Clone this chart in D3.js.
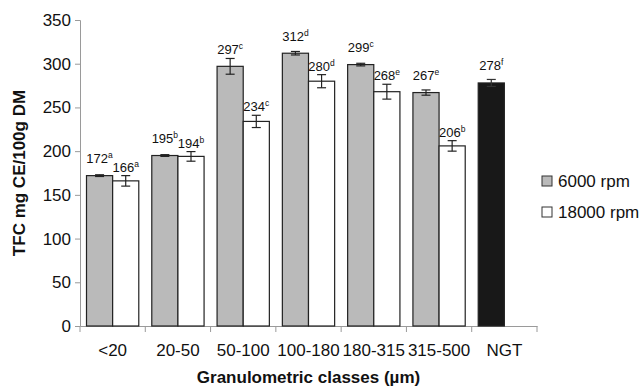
<!DOCTYPE html>
<html>
<head>
<meta charset="utf-8">
<script src="https://cdn.jsdelivr.net/npm/d3@7/dist/d3.min.js"></script>
<style>
  body { margin:0; background:#fff; }
  svg text { font-family: "Liberation Sans", Arial, sans-serif; fill:#111; }
</style>
</head>
<body>
<div class="container"></div>
<script>
// data
var categories = ["<20","20-50","50-100","100-180","180-315","315-500","NGT"];
var seriesNames = ["6000 rpm","18000 rpm"];
var rpm6000 = [172,195,297,312,299,267,278];
var rpm6000Err = [1,1,9,2,1.5,3,4];
var rpm6000Letters = ["a","b","c","d","c","e","f"];
var rpm18000 = [166,194,234,280,268,206,null];
var rpm18000Err = [6,5.5,7,7.5,8.5,6,null];
var rpm18000Letters = ["a","b","c","d","e","b",null];
var yTicks = [0,50,100,150,200,250,300,350];

var width=644, height=387;
var margin={left:80,right:107,top:20,bottom:61};

var svg=d3.select(".container").append("svg").attr("width",width).attr("height",height);

var y=d3.scaleLinear().domain([0,350]).range([height-margin.bottom,margin.top]);
var x=d3.scaleBand().domain(categories).range([margin.left,width-margin.right]).paddingInner(0);
var xs=d3.scaleBand().domain(seriesNames).range([6.5,x.bandwidth()-6.5]);

// build rows for each bar
var bars=[];
for(i=0;i<categories.length;i++){
    bars.push({cat:categories[i],s:seriesNames[0],v:rpm6000[i],e:rpm6000Err[i],l:rpm6000Letters[i],
        fill:categories[i]=="NGT"?"#181818":"#bababa"});
    if(rpm18000[i]!=null){
        bars.push({cat:categories[i],s:seriesNames[1],v:rpm18000[i],e:rpm18000Err[i],l:rpm18000Letters[i],fill:"#ffffff"});
    }
}

var axisColor="#9a9a9a";

// axes
var yAxis=d3.axisLeft(y).tickValues(yTicks).tickSize(5).tickPadding(4);
var gy=svg.append("g").attr("transform","translate("+margin.left+",0)").call(yAxis);
gy.select(".domain").attr("stroke",axisColor);
gy.selectAll(".tick line").attr("stroke",axisColor);
gy.selectAll(".tick text").attr("font-size","17px").attr("font-family","Liberation Sans, Arial, sans-serif").attr("fill","#111");

var xAxis=d3.axisBottom(x).tickSize(0).tickPadding(0);
var gx=svg.append("g").attr("transform","translate(0,"+y(0)+")").call(xAxis);
gx.select(".domain").attr("stroke",axisColor);
gx.selectAll(".tick text").attr("font-size","17px").attr("font-family","Liberation Sans, Arial, sans-serif")
    .attr("fill","#111").attr("dy",null).attr("y",30);
// boundary ticks between categories
var bounds=categories.map(function(c){return x(c);}).concat([x.range()[1]]);
svg.selectAll("line.bt").data(bounds).enter().append("line").attr("class","bt")
    .attr("x1",function(d){return d;}).attr("x2",function(d){return d;})
    .attr("y1",y(0)).attr("y2",y(0)+6).attr("stroke",axisColor);

// bars
svg.selectAll("rect.bar").data(bars).enter().append("rect").attr("class","bar")
    .attr("x",function(d){return x(d.cat)+xs(d.s);})
    .attr("y",function(d){return y(d.v);})
    .attr("width",xs.bandwidth())
    .attr("height",function(d){return y(0)-y(d.v);})
    .attr("fill",function(d){return d.fill;})
    .attr("stroke","#222").attr("stroke-width",1.2);

// error bars
var eg=svg.selectAll("g.err").data(bars).enter().append("g").attr("class","err")
    .attr("stroke",function(d){return d.cat=="NGT"?"#333":"#222";}).attr("stroke-width",1.2);
eg.append("line")
    .attr("x1",function(d){return x(d.cat)+xs(d.s)+xs.bandwidth()/2;})
    .attr("x2",function(d){return x(d.cat)+xs(d.s)+xs.bandwidth()/2;})
    .attr("y1",function(d){return y(d.v+d.e);})
    .attr("y2",function(d){return y(d.v-d.e);});
eg.selectAll("line.cap").data(function(d){return [d.v+d.e,d.v-d.e].map(function(v){return {d:d,v:v};});})
    .enter().append("line").attr("class","cap")
    .attr("x1",function(c){return x(c.d.cat)+xs(c.d.s)+xs.bandwidth()/2-4.5;})
    .attr("x2",function(c){return x(c.d.cat)+xs(c.d.s)+xs.bandwidth()/2+4.5;})
    .attr("y1",function(c){return y(c.v);})
    .attr("y2",function(c){return y(c.v);});

// value labels with letters
var lbl=svg.selectAll("text.val").data(bars).enter().append("text").attr("class","val")
    .attr("x",function(d){return x(d.cat)+xs(d.s)+xs.bandwidth()/2;})
    .attr("y",function(d){return d.s==seriesNames[0]?y(d.v)-12.5:y(d.v+d.e)-4;})
    .attr("text-anchor","middle").attr("font-size","13px");
lbl.append("tspan").text(function(d){return d.v;});
lbl.append("tspan").attr("font-size","8.5px").attr("dy","-5").text(function(d){return d.l;});

// legend
var lg=svg.selectAll("g.leg").data(seriesNames).enter().append("g").attr("class","leg")
    .attr("transform",function(d,i){return "translate(542,"+(176+i*31)+")";});
lg.append("rect").attr("width",10).attr("height",10)
    .attr("fill",function(d,i){return i==0?"#bababa":"#fff";}).attr("stroke","#333").attr("stroke-width",1);
lg.append("text").attr("x",16).attr("y",11).attr("font-size","17px").text(function(d){return d;});

// axis titles
svg.append("text").attr("x",(margin.left+x.range()[1])/2).attr("y",383)
    .attr("text-anchor","middle").attr("font-size","17px").attr("font-weight","bold")
    .text("Granulometric classes (\u00b5m)");
svg.append("text").attr("transform","translate(25,173) rotate(-90)")
    .attr("text-anchor","middle").attr("font-size","17px").attr("font-weight","bold")
    .text("TFC mg CE/100g DM");
</script>
</body>
</html>
